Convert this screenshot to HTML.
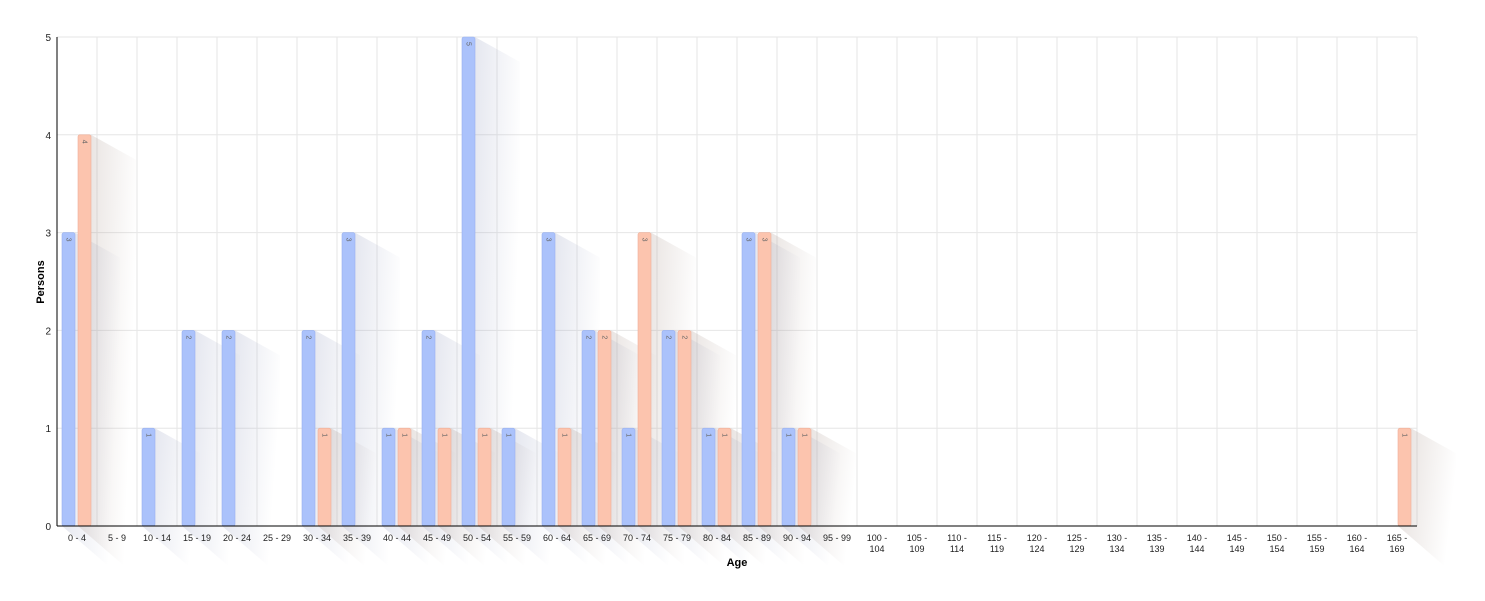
<!DOCTYPE html>
<html><head><meta charset="utf-8"><style>
body{margin:0;background:#fff;}
svg{display:block;font-family:"Liberation Sans",sans-serif;}
</style></head><body>
<svg id="chart" width="1485" height="601" xmlns="http://www.w3.org/2000/svg">
<defs>
<linearGradient id="shB" x1="0" y1="0" x2="1" y2="0.3"><stop offset="0" stop-color="#8a93b8" stop-opacity="0.28"/><stop offset="1" stop-color="#8a93b8" stop-opacity="0"/></linearGradient>
<linearGradient id="shO" x1="0" y1="0" x2="1" y2="0.3"><stop offset="0" stop-color="#a08a80" stop-opacity="0.28"/><stop offset="1" stop-color="#a08a80" stop-opacity="0"/></linearGradient>
</defs>
<g id="grid"></g><g id="shadows"></g><g id="bars"></g><g id="axes"></g>
</svg>
<script>
const categories=["0 - 4","5 - 9","10 - 14","15 - 19","20 - 24","25 - 29","30 - 34","35 - 39","40 - 44","45 - 49","50 - 54","55 - 59","60 - 64","65 - 69","70 - 74","75 - 79","80 - 84","85 - 89","90 - 94","95 - 99","100 - 104","105 - 109","110 - 114","115 - 119","120 - 124","125 - 129","130 - 134","135 - 139","140 - 144","145 - 149","150 - 154","155 - 159","160 - 164","165 - 169"];
const maleValues=[3,0,1,2,2,0,2,3,1,2,5,1,3,2,1,2,1,3,1,0,0,0,0,0,0,0,0,0,0,0,0,0,0,0];
const femaleValues=[4,0,0,0,0,0,1,0,1,1,1,0,1,2,3,2,1,3,1,0,0,0,0,0,0,0,0,0,0,0,0,0,0,1];
const yTicks=[0,1,2,3,4,5];
const NS="http://www.w3.org/2000/svg";
const X0=57,X1=1417,Y0=526,Y1=37,YMAX=5;
const bw=(X1-X0)/categories.length;
const x=i=>X0+i*bw;
const y=v=>Y0-(Y0-Y1)*v/YMAX;
function mk(tag,attrs,parent){const e=document.createElementNS(NS,tag);for(const k in attrs)e.setAttribute(k,attrs[k]);document.getElementById(parent).appendChild(e);return e;}
// grid
yTicks.forEach(t=>{const l=mk('line',{x1:X0,x2:X1,y1:y(t),y2:y(t),stroke:'#e6e6e6'},'grid');


const tx=mk('text',{x:X0-6,y:y(t)+4,'text-anchor':'end','font-size':10,fill:'#222'},'axes');tx.textContent=t;

});
for(let i=0;i<=categories.length;i++){const l=mk('line',{x1:x(i),x2:x(i),y1:Y1,y2:Y0,stroke:'#e6e6e6'},'grid');

}
// bars
const barW=13;
function drawBar(i,v,off,fill,stroke,lab,sh){
 if(!v)return;
 const bx=x(i)+off, top=y(v), r=bx+barW;
 const p=mk('polygon',{points:`${r},${top} ${r+45},${top+25} ${r+45},${Y0+50} ${bx},${Y0} ${r},${Y0}`,fill:`url(#${sh})`},'shadows');
 
 
 const b=mk('rect',{x:bx,y:top,width:barW,height:Y0-top,rx:2,fill:fill,stroke:stroke,'stroke-width':0.6},'bars');
 
 
 const t=mk('text',{x:bx+barW/2-2,y:top+5,transform:`rotate(90 ${bx+barW/2-2} ${top+5})`,'font-size':7,fill:'#666'},'bars');t.textContent=v;
 
 
}
categories.forEach((c,i)=>{
 drawBar(i,maleValues[i],5,'#abc2fb','#98b0ee','male','shB');
 drawBar(i,femaleValues[i],21,'#fcc4ae','#eeae98','female','shO');
 const cx=x(i)+bw/2;const parts=c.length>8?[c.split(' - ')[0]+' -',c.split(' - ')[1]]:[c];
 parts.forEach((p,k)=>{const t=mk('text',{x:cx,y:541+k*11,'text-anchor':'middle','font-size':9,fill:'#222'},'axes');t.textContent=p;
 
 });
});
const ax=mk('line',{x1:X0,x2:X0,y1:Y1,y2:Y0,stroke:'#000'},'axes');


const ax2=mk('line',{x1:X0,x2:X1,y1:Y0,y2:Y0,stroke:'#000'},'axes');


const xt=mk('text',{x:(X0+X1)/2,y:566,'text-anchor':'middle','font-size':11,'font-weight':'bold'},'axes');xt.textContent='Age';


const yt=mk('text',{x:44,y:282,'text-anchor':'middle','font-size':11,'font-weight':'bold',transform:'rotate(-90 44 282)'},'axes');yt.textContent='Persons';


</script>
</body></html>
